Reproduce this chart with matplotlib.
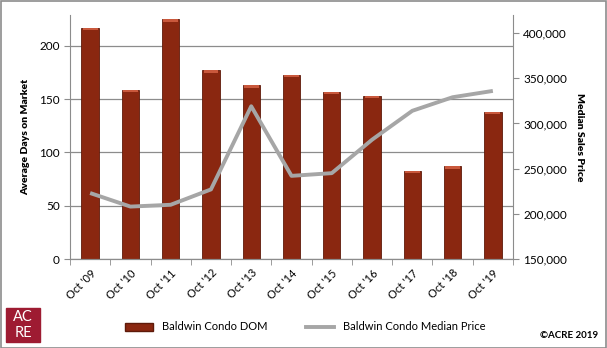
import numpy as np
import matplotlib.pyplot as plt
from matplotlib.patches import Rectangle, Patch
from matplotlib.lines import Line2D

# --- Data ---
CATEGORIES = ["Oct '09", "Oct '10", "Oct '11", "Oct '12", "Oct '13", "Oct '14",
              "Oct '15", "Oct '16", "Oct '17", "Oct '18", "Oct '19"]
DOM = [217, 159, 225, 177, 163, 173, 157, 153, 83, 87, 138]
MEDIAN_PRICE = [223000, 208000, 210000, 227000, 319000, 242000,
                245000, 282000, 314000, 329000, 336000]

plt.rcParams['font.family'] = ['Lato', 'DejaVu Sans']

fig = plt.figure(figsize=(6.07, 3.48), dpi=100)
W, H = 607, 348
ax = fig.add_axes([70 / W, 1 - 259 / H, (513 - 70) / W, (259 - 15) / H])
ax2 = ax.twinx()

x = np.arange(len(CATEGORIES))
bars = ax.bar(x, DOM, width=0.43, color='#8A2710', edgecolor='#5E1A0A',
              linewidth=0.6, zorder=2)
# lighter bevel cap on each bar
for b in bars:
    ax.add_patch(Rectangle((b.get_x() + 0.03, b.get_height() - 2.2),
                           b.get_width() - 0.06, 2.2,
                           color='#C9583C', zorder=3, linewidth=0))

ax.set_xlim(-0.5, len(CATEGORIES) - 0.5)
ax.set_ylim(0, 229)
ax.set_yticks([0, 50, 100, 150, 200])
ax.yaxis.grid(True, color='#8C8C8C', linewidth=0.9, zorder=0)
ax.set_axisbelow(True)
ax.set_xticks(x)
ax.set_xticklabels(CATEGORIES, rotation=45, ha='right', rotation_mode='anchor',
                   fontsize=8)
ax.set_xticks(np.arange(-0.5, len(CATEGORIES)), minor=True)
ax.tick_params(axis='x', which='major', length=0, pad=6)
ax.tick_params(axis='x', which='minor', length=4, color='#8C8C8C')
ax.tick_params(axis='y', labelsize=8.5, length=4, color='#8C8C8C')
ax.set_ylabel('Average Days on Market', fontsize=7.5, fontweight='heavy', labelpad=6)

ax2.plot(x, MEDIAN_PRICE, color='#A6A6A6', linewidth=2.8, zorder=4,
         solid_capstyle='butt')
ax2.set_ylim(150000, 420000)
ax2.set_yticks([150000, 200000, 250000, 300000, 350000, 400000])
ax2.set_yticklabels([f'{v:,}' for v in ax2.get_yticks().astype(int)], fontsize=8.5)
ax2.tick_params(axis='y', length=4, color='#8C8C8C')
ax2.set_ylabel('Median Sales Price', fontsize=7.5, fontweight='heavy',
               rotation=270, labelpad=12)

for a in (ax, ax2):
    a.spines['top'].set_visible(False)
    for s in ('left', 'right', 'bottom'):
        a.spines[s].set_color('#8C8C8C')
ax2.spines['left'].set_visible(False)
ax.spines['right'].set_visible(False)

# legend
handles = [Patch(facecolor='#8A2710', edgecolor='#5E1A0A', label='Baldwin Condo DOM'),
           Line2D([0], [0], color='#A6A6A6', linewidth=2.8,
                  label='Baldwin Condo Median Price')]
fig.legend(handles=handles, loc='center', bbox_to_anchor=(305 / W, 1 - 327 / H),
           ncol=2, frameon=False, fontsize=8, handlelength=2.5, columnspacing=3.5)

# logo
fig.patches.append(Rectangle((6 / W, 1 - 342 / H), 34 / W, 34 / H,
                             transform=fig.transFigure, color='#9E1B32'))
fig.text(23 / W, 1 - 317 / H, 'AC', color='white', fontsize=10.5, ha='center', va='center')
fig.text(23 / W, 1 - 333 / H, 'RE', color='white', fontsize=10.5, ha='center', va='center')
fig.text(598 / W, 1 - 335 / H, '©ACRE 2019', fontsize=7, fontweight='bold',
         ha='right', va='center')

# outer border
fig.patches.append(Rectangle((0.5 / W, 0.5 / H), 1 - 1.5 / W, 1 - 1.5 / H,
                             transform=fig.transFigure, fill=False,
                             edgecolor='#8C8C8C', linewidth=1.2))

fig.savefig('out.png', dpi=100)
